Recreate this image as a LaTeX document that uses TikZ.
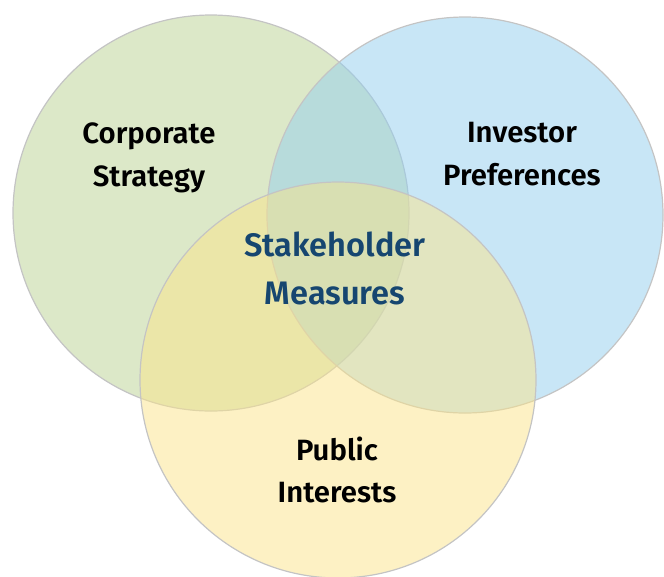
\documentclass[tikz,border=0pt]{standalone}
\usepackage{fontspec}
\setmainfont{Fira Sans}[BoldFont={Fira Sans SemiBold}]
\usetikzlibrary{positioning}
\definecolor{strategygreen}{RGB}{186,210,146}
\definecolor{investorblue}{RGB}{146,206,238}
\definecolor{publicyellow}{RGB}{251,228,138}
\definecolor{rimgray}{RGB}{196,196,196}
\definecolor{measureblue}{RGB}{22,70,112}
\tikzset{
  setcircle/.style={circle, minimum size=297pt, inner sep=0pt, draw=rimgray, line width=0.9pt, fill opacity=0.5, draw opacity=1},
  setlabel/.style={align=center, font=\bfseries\fontsize{22}{32}\selectfont, text=black},
  corelabel/.style={align=center, font=\bfseries\fontsize{24.4}{36}\selectfont, text=measureblue}
}

\begin{document}
\begin{tikzpicture}[x=0.75pt, y=-0.75pt]
  \useasboundingbox (0,0) rectangle (664,576);

  % the three sets
  \node (strategy) [setcircle, fill=strategygreen] at (211,213) {};
  \node (investor) [setcircle, fill=investorblue] at (465,215) {};
  \node (public) [setcircle, fill=publicyellow] at (338,380) {};

  % labels
  \node (strategytext) [setlabel] at (149,158) {Corporate\\Strategy};
  \node (investortext) [setlabel] at (522,154) {Investor\\Preferences};
  \node (publictext) [setlabel] at (337,470) {Public\\Interests};
  \node (core) [corelabel] at (335,268) {Stakeholder\\Measures};

\end{tikzpicture}
\end{document}
